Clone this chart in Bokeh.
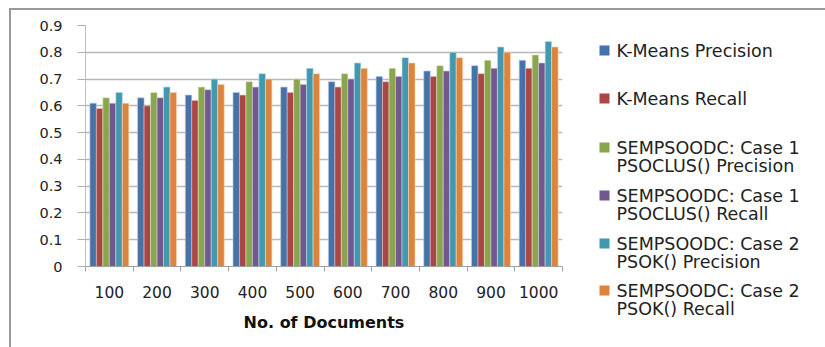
from bokeh.plotting import figure
from bokeh.layouts import row, column
from bokeh.models import Range1d, FixedTicker, ColumnDataSource
from bokeh.core.properties import value
from bokeh.embed import file_html
from bokeh.resources import INLINE

categories = ["100", "200", "300", "400", "500", "600", "700", "800", "900", "1000"]
series_names = [
    "K-Means Precision",
    "K-Means Recall",
    "SEMPSOODC: Case 1\nPSOCLUS() Precision",
    "SEMPSOODC: Case 1\nPSOCLUS() Recall",
    "SEMPSOODC: Case 2\nPSOK() Precision",
    "SEMPSOODC: Case 2\nPSOK() Recall",
]
kmeans_precision = [0.61, 0.63, 0.64, 0.65, 0.67, 0.69, 0.71, 0.73, 0.75, 0.77]
kmeans_recall = [0.59, 0.60, 0.62, 0.64, 0.65, 0.67, 0.69, 0.71, 0.72, 0.74]
case1_precision = [0.63, 0.65, 0.67, 0.69, 0.70, 0.72, 0.74, 0.75, 0.77, 0.79]
case1_recall = [0.61, 0.63, 0.66, 0.67, 0.68, 0.70, 0.71, 0.73, 0.74, 0.76]
case2_precision = [0.65, 0.67, 0.70, 0.72, 0.74, 0.76, 0.78, 0.80, 0.82, 0.84]
case2_recall = [0.61, 0.65, 0.68, 0.70, 0.72, 0.74, 0.76, 0.78, 0.80, 0.82]
y_ticks = [0, 0.1, 0.2, 0.3, 0.4, 0.5, 0.6, 0.7, 0.8, 0.9]
y_tick_labels = ["0", "0.1", "0.2", "0.3", "0.4", "0.5", "0.6", "0.7", "0.8", "0.9"]
x_title = "No. of Documents"

series = [kmeans_precision, kmeans_recall, case1_precision, case1_recall,
          case2_precision, case2_recall]
colors = ["#4572A7", "#AA4643", "#89A54E", "#71588F", "#4198AF", "#DB843D"]
edge_colors = ["#b9cde5", "#e6b9b8", "#d7e4bd", "#ccc1da", "#b7dee8", "#fcd5b5"]

FONT = "DejaVu Sans"

n = len(categories)
p = figure(width=559, height=337, output_backend="svg", toolbar_location=None,
           x_range=Range1d(0, n), y_range=Range1d(0, 0.9),
           min_border_left=74, min_border_right=8, min_border_top=15,
           min_border_bottom=81)
p.outline_line_color = None
p.background_fill_color = "white"
p.border_fill_color = "white"

bar_w = 0.136
centers = [i + 0.5 for i in range(n)]
for k, (vals, col, ecol) in enumerate(zip(series, colors, edge_colors)):
    off = (k - 2.5) * bar_w
    src = ColumnDataSource(dict(x=[c + off for c in centers], top=vals))
    p.vbar(x="x", top="top", width=bar_w, source=src, fill_color=col,
           line_color=ecol, line_width=0.8, line_alpha=0.8)

# y axis
p.yaxis.ticker = FixedTicker(ticks=y_ticks)
p.yaxis.major_label_overrides = {t: l for t, l in zip(y_ticks, y_tick_labels)}
p.yaxis.major_tick_out = 8
p.yaxis.major_tick_in = 0
p.yaxis.minor_tick_line_color = None
p.yaxis.major_tick_line_color = "#b0b0b0"
p.yaxis.axis_line_color = "#c0c0c0"
p.yaxis.major_label_standoff = 15
p.yaxis.major_label_text_font = FONT
p.yaxis.major_label_text_font_size = "14.5px"
p.yaxis.major_label_text_color = "#222222"

# x axis
p.xaxis.ticker = FixedTicker(ticks=centers, minor_ticks=list(range(n + 1)))
p.xaxis.major_label_overrides = {c: l for c, l in zip(centers, categories)}
p.xaxis.major_tick_line_color = None
p.xaxis.major_tick_out = 0
p.xaxis.major_tick_in = 0
p.xaxis.minor_tick_out = 5
p.xaxis.minor_tick_in = 0
p.xaxis.minor_tick_line_color = "#a0a0a0"
p.xaxis.axis_line_color = "#a0a0a0"
p.xaxis.major_label_standoff = 14
p.xaxis.major_label_text_font = FONT
p.xaxis.major_label_text_font_size = "15.5px"
p.xaxis.major_label_text_color = "#222222"
p.xaxis.axis_label = x_title
p.xaxis.axis_label_text_font = FONT
p.xaxis.axis_label_text_font_style = "bold"
p.xaxis.axis_label_text_font_size = "16px"
p.xaxis.axis_label_standoff = 12
p.xaxis.axis_label_text_color = "#111111"

p.xgrid.grid_line_color = None
p.ygrid.ticker = FixedTicker(ticks=y_ticks)
p.ygrid.grid_line_color = "#b8b8b8"
p.ygrid.grid_line_width = 1.3

# legend panel: data coordinates equal page pixels
leg = figure(width=255, height=337, output_backend="svg", toolbar_location=None,
             x_range=Range1d(570, 825), y_range=Range1d(347, 10),
             min_border=0, min_border_left=0, min_border_right=0,
             min_border_top=0, min_border_bottom=0)
leg.axis.visible = False
leg.grid.visible = False
leg.outline_line_color = None

entry_y = [50, 98, 147, 195, 243, 290]
line_gap = 18.5
rx, ry, rc = [], [], []
tx, ty, tt = [], [], []
for name, col, y0 in zip(series_names, colors, entry_y):
    rx.append(604)
    ry.append(y0)
    rc.append(col)
    for j, line in enumerate(name.split("\n")):
        tx.append(616)
        ty.append(y0 + j * line_gap)
        tt.append(line)
leg.rect(x=rx, y=ry, width=10, height=10, fill_color=rc, line_color=None)
leg.text(x=tx, y=ty, text=tt, text_font=value(FONT), text_font_size="17.5px",
         text_baseline="middle", text_align="left", text_color="#222222")

layout = row(p, column(leg), margin=(8, 0, 0, 9),
             styles={"border-left": "2px solid #999999",
                     "border-top": "2px solid #999999"})

open("out.html", "w").write(file_html(layout, INLINE))
